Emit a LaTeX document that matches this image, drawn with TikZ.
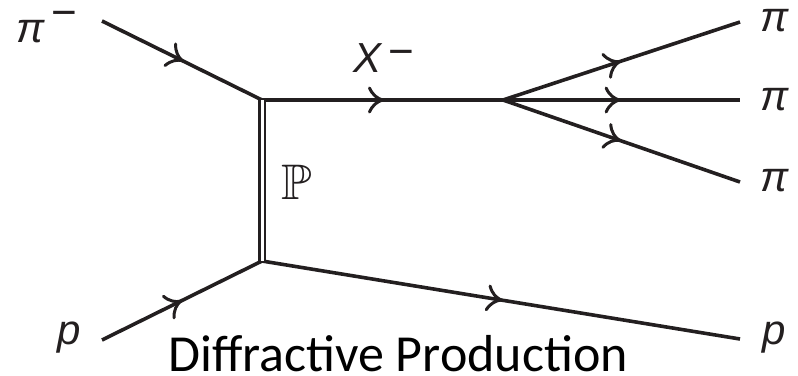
\documentclass[tikz,border=0pt]{standalone}
\usepackage{fontspec}
\usepackage{amssymb}
\setmainfont{Carlito}
\newfontfamily\labfont{Liberation Sans}
\usetikzlibrary{arrows.meta,decorations.markings}
\definecolor{ink}{HTML}{231F20}
\begin{document}
\begin{tikzpicture}[x=1pt,y=-1pt,
  line/.style={line width=3.6pt, draw=ink},
  fermion/.style={line, postaction={decorate},
    decoration={markings, mark=at position #1 with
      {\draw[ink, line width=3pt, line cap=round]
        (-13pt,12pt) .. controls (-10pt,5pt) and (-5pt,1.5pt) .. (0pt,0pt)
        .. controls (-5pt,-1.5pt) and (-10pt,-5pt) .. (-13pt,-12pt);}}},
  fermion/.default=0.5,
  pomeron/.style={draw=ink, line width=2.6pt, double=white, double distance=3pt},
  lab/.style={inner sep=0pt, text=ink, font=\labfont\itshape\fontsize{42}{42}\selectfont},
  minus/.style={inner sep=0pt, anchor=base, text=ink, font=\labfont\fontsize{44}{44}\selectfont},
]
\useasboundingbox (0,0) rectangle (798,375);
\coordinate (a) at (102,21);
\coordinate (b) at (102,340);
\coordinate (v1) at (262,100);
\coordinate (v2) at (262,261);
\coordinate (v3) at (503,100);
\coordinate (c1) at (740,22);
\coordinate (c2) at (740,100);
\coordinate (c3) at (740,182);
\coordinate (d) at (740,339);

\draw[fermion=0.5] (a) -- (v1);
\draw[fermion=0.5] (v1) -- (v3);
\draw[fermion=0.49] (v3) -- (c1);
\draw[fermion=0.49] (v3) -- (c2);
\draw[fermion=0.49] (v3) -- (c3);
\draw[fermion=0.49] (b) -- (v2);
\draw[fermion=0.5] (v2) -- (d);
\draw[pomeron] (v1) -- (v2);

\node[lab] (pia) at (31,32) {π};
\node[minus] (pim) at (64,27) {−};
\node[lab,font=\labfont\itshape\fontsize{42}{42}\selectfont] (X) at (368,58) {X};
\node[minus] (Xm) at (401,66) {−};
\node[lab] (pi1) at (775,21) {π};
\node[lab] (pi2) at (775,100) {π};
\node[lab] (pi3) at (775,181) {π};
\node[lab] (pl) at (69,338) {p};
\node[lab] (pr) at (774,338) {p};
\node[inner sep=0pt, text=ink] (P) at (297,182) {\fontsize{50}{50}\selectfont$\mathbb{P}$};
\node[inner sep=0pt, anchor=base, text=black, font=\fontsize{52}{52}\selectfont] (title) at (398,371) {Diffractive Production};
\end{tikzpicture}
\end{document}
